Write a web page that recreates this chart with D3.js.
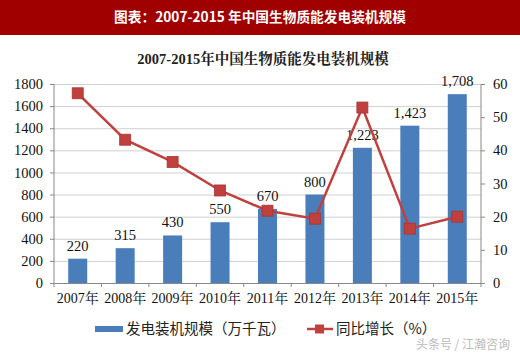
<!DOCTYPE html>
<html><head><meta charset="utf-8">
<script src="https://cdn.jsdelivr.net/npm/d3@7"></script>
<style>body{margin:0;background:#fff}svg{display:block}</style>
</head><body>
<script>
const years = ["2007年","2008年","2009年","2010年","2011年","2012年","2013年","2014年","2015年"];
const capacity = [220,315,430,550,670,800,1223,1423,1708];
const growth = [57.2,43.2,36.5,27.9,21.8,19.4,52.9,16.4,20.0];
const leftTicks = [0,200,400,600,800,1000,1200,1400,1600,1800];
const rightTicks = [0,10,20,30,40,50,60];

const W=520,H=356;
const svg=d3.select("body").append("svg").attr("width",W).attr("height",H);
const serif="'Liberation Serif','Times New Roman',serif";
const cjk="'Noto Sans CJK SC','Noto Sans',sans-serif";

svg.append("rect").attr("x",0).attr("y",0).attr("width",W).attr("height",35).attr("fill","#a00000");
svg.append("text").attr("x",260).attr("y",22).attr("text-anchor","middle").attr("fill","#fff")
  .attr("font-family",cjk).attr("font-weight","bold").attr("font-size",13.7).text("图表：2007-2015 年中国生物质能发电装机规模");
svg.append("text").attr("x",263).attr("y",64).attr("text-anchor","middle").attr("fill","#222")
  .attr("font-family","'Liberation Serif','Noto Serif CJK SC','Noto Sans CJK SC',serif").attr("font-weight","bold").attr("font-size",14.5).text("2007-2015年中国生物质能发电装机规模");

const x0=54,x1=481,yTop=84,yBot=283;
const xb=d3.scaleBand().domain(years).range([x0,x1]);
const yL=d3.scaleLinear().domain([0,1800]).range([yBot,yTop]);
const yR=d3.scaleLinear().domain([0,60]).range([yBot,yTop]);

// gridlines
svg.append("g").selectAll("line").data(leftTicks.slice(1)).join("line")
  .attr("x1",x0).attr("x2",x1).attr("y1",d=>yL(d)+0.5).attr("y2",d=>yL(d)+0.5)
  .attr("stroke","#d0d0d0").attr("stroke-width",1);

// bars
svg.append("g").selectAll("rect").data(capacity).join("rect")
  .attr("x",(d,i)=>xb(years[i])+xb.bandwidth()/2-9.5).attr("width",19)
  .attr("y",d=>yL(d)).attr("height",d=>yBot-yL(d)).attr("fill","#4a7ebb");

// axes
const gL=svg.append("g").attr("transform",`translate(${x0},0)`)
  .call(d3.axisLeft(yL).tickValues(leftTicks).tickFormat(d3.format("d")).tickSize(4).tickPadding(7));
const gR=svg.append("g").attr("transform",`translate(${x1},0)`)
  .call(d3.axisRight(yR).tickValues(rightTicks).tickSize(4).tickPadding(8));
const gX=svg.append("g").attr("transform",`translate(0,${yBot})`)
  .call(d3.axisBottom(xb).tickSize(0).tickPadding(10));
svg.append("g").selectAll("line").data(d3.range(years.length+1)).join("line")
  .attr("x1",i=>x0+i*xb.step()).attr("x2",i=>x0+i*xb.step()).attr("y1",yBot).attr("y2",yBot+4)
  .attr("stroke","#888");
[gL,gR,gX].forEach(g=>{
  g.selectAll(".domain").attr("stroke","#888");
  g.selectAll(".tick line").attr("stroke","#888");
  g.selectAll("text").attr("font-family",serif).attr("font-size",14.5).attr("fill","#111");
});
gL.select(".domain").attr("d",`M0,${yTop}V${yBot}`);
gR.select(".domain").attr("d",`M0,${yTop}V${yBot}`);
gX.selectAll("text").attr("font-family","'Liberation Serif','Noto Serif CJK SC',serif").attr("font-size",14);

// bar labels
const fmt=d3.format(",");
svg.append("g").selectAll("text").data(capacity).join("text")
  .attr("x",(d,i)=>xb(years[i])+xb.bandwidth()/2).attr("y",d=>yL(d)-8)
  .attr("text-anchor","middle").attr("font-family",serif).attr("font-size",14.5).attr("fill","#111")
  .text(d=>fmt(d));

// line
const line=d3.line().x((d,i)=>xb(years[i])+xb.bandwidth()/2).y(d=>yR(d));
svg.append("path").datum(growth).attr("d",line).attr("fill","none").attr("stroke","#c0403d").attr("stroke-width",2.5);
svg.append("g").selectAll("rect").data(growth).join("rect")
  .attr("x",(d,i)=>xb(years[i])+xb.bandwidth()/2-5.5).attr("y",d=>yR(d)-5.5)
  .attr("width",11).attr("height",11).attr("fill","#c0403d").attr("stroke","#a83532").attr("stroke-width",0.8);

// legend
const lg=svg.append("g");
lg.append("rect").attr("x",95).attr("y",326).attr("width",28).attr("height",6).attr("fill","#4a7ebb");
lg.append("text").attr("x",126).attr("y",334).attr("font-family",cjk).attr("font-size",14.5).attr("fill","#222").text("发电装机规模（万千瓦）");
lg.append("line").attr("x1",307).attr("x2",333).attr("y1",329).attr("y2",329).attr("stroke","#c0403d").attr("stroke-width",2.5);
lg.append("rect").attr("x",315).attr("y",324.5).attr("width",9).attr("height",9).attr("fill","#c0403d");
lg.append("text").attr("x",336).attr("y",334).attr("font-family",cjk).attr("font-size",14.5).attr("fill","#222").text("同比增长（%）");
svg.append("text").attr("x",510).attr("y",349).attr("text-anchor","end").attr("font-family",cjk).attr("font-size",12).attr("fill","#bbb").text("头条号 / 江瀚咨询");
</script>
</body></html>
